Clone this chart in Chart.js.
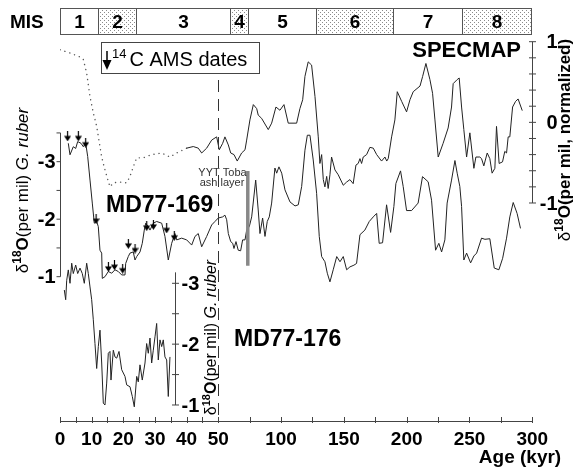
<!DOCTYPE html>
<html>
<head>
<meta charset="utf-8">
<script src="https://cdn.jsdelivr.net/npm/chart.js@4.4.0/dist/chart.umd.min.js"></script>
<style>
  html, body { margin: 0; padding: 0; background: #fff; }
  #wrap { width: 574px; height: 472px; position: relative; }
</style>
</head>
<body>
<div id="wrap"><canvas id="chart"></canvas></div>
<script>
// ages in kyr, d18O in per mil (SPECMAP normalized)
const specmapAge = [0,3.16,6.32,7.36,8.43,9.48,10.52,11.59,13.17,14.21,
  15.79,16.84,18.95,21.07,22.11,23.15,24.23,26.31,28.96,32.12,
  34.74,36.86,40.02,42.1,43.68,44.76,46.34,47.92,49.49,50.8,
  53.5,55.3,58.0,59.9,62.5,65.1,68.6,71.3,72.6,75.2,
  77.9,80.6,81.8,84.5,89.8,92.5,95.9,99.1,102.3,105.7,
  112.4,115.0,117.2,119.0,121.6,124.3,127.0,129.6,130.9,132.3,
  133.6,134.9,136.3,137.5,138.9,140.2,142.9,145.5,149.5,152.2,
  154.8,157.4,159.6,161.4,162.8,164.1,165.4,168.1,170.7,173.4,
  176.1,180.0,182.7,184.1,185.3,188.0,190.6,192.5,196.0,199.9,
  202.6,205.2,210.6,212.7,215.3,218.5,220.6,222.5,225.1,229.0,
  233.0,235.7,237.0,240.2,241.8,243.7,245.5,247.7,250.3,253.5,
  255.1,258.2,259.6,261.4,264.1,266.2,268.0,270.2,271.5,273.6,
  276.3,278.1,279.5,280.8,282.1,284.3,286.7,288.7,291.9];
const specmapValue = [0.90,0.86,0.81,0.78,0.61,0.32,0.12,-0.05,-0.43,-0.59,
  -0.80,-0.75,-0.74,-0.75,-0.67,-0.55,-0.44,-0.44,-0.40,-0.38,
  -0.43,-0.38,-0.32,-0.30,-0.32,-0.38,-0.32,-0.22,-0.18,-0.34,
  -0.26,-0.18,-0.28,-0.38,-0.40,-0.48,-0.38,-0.34,-0.22,0.03,
  0.22,0.17,0.09,0.05,-0.09,-0.01,0.19,0.15,0.22,-0.01,
  -0.01,0.17,0.28,0.57,0.75,0.71,0.32,-0.18,-0.51,-0.40,
  -0.71,-0.80,-0.67,-0.82,-0.65,-0.43,-0.59,-0.65,-0.78,-0.74,
  -0.71,-0.76,-0.53,-0.51,-0.45,-0.51,-0.43,-0.40,-0.31,-0.32,
  -0.40,-0.48,-0.43,-0.48,-0.45,-0.18,0.03,0.38,0.26,0.13,
  0.28,0.38,0.45,0.57,0.73,0.53,0.36,0.03,-0.43,-0.26,
  -0.07,0.19,0.48,0.53,0.55,0.19,-0.09,-0.43,-0.13,-0.57,
  -0.43,-0.43,-0.45,-0.54,-0.38,-0.45,-0.63,-0.57,-0.05,-0.51,
  -0.49,-0.36,-0.38,-0.18,-0.18,0.19,0.26,0.29,0.15];
const specmapDottedUntil = 40.02;

const md169Age = [2.62,3.16,4.2,4.96,5.59,6.63,7.36,8.12,8.75,9.48,
  10.2,10.83,11.59,12.1,12.63,13.17,13.36,14.21,15.26,16.33,
  17.37,18.41,19.49,20.53,20.75,21.57,22.11,23.15,23.69,24.23,
  25.27,25.99,26.63,27.07,27.89,28.43,29.47,30.54,32.12,33.16,
  34.21,35.28,36.32,36.86,38.44,40.02,41.6,42.64,43.68,44.76,
  46.34,47.92,48.96,50.0,53.5,55.3,56.7,58.0,59.9,61.5,
  62.5,64.1,65.9,67.8,69.4,71.3,72.6,74.7,76.6,79.8,
  81.8,83.2,85.3,87.2,89.0,90.6,92.5,95.1,96.5,98.3,
  100.5,103.1,107.1,111.1,113.7,116.4,119.0,120.9,123.0,125.6,
  128.3,130.4,132.3,134.9,136.8,138.9,141.5,144.3,146.9,149.5,
  152.2,154.8,158.0,160.1,162.8,166.7,170.2,173.4,176.1,178.1,
  180.8,184.0,187.2,189.8,191.4,195.1,197.2,199.9,203.9,209.1,
  212.6,217.1,219.8,223.0,225.6,227.8,230.4,232.2,235.7,238.4,
  240.2,242.3,243.7,245.5,247.7,250.9,253.5,255.7,259.6,262.3,
  266.2,269.7,273.4,276.4,279.5,282.1,284.8,287.9,290.6];
const md169Value = [-3.32,-3.12,-3.26,-3.23,-3.35,-3.32,-3.26,-3.32,-3.09,-2.68,
  -2.28,-1.93,-1.96,-1.87,-1.46,-1.41,-0.97,-1.00,-1.09,-1.06,
  -1.12,-1.09,-1.03,-1.03,-1.23,-1.35,-1.41,-1.43,-1.29,-1.35,
  -1.43,-1.58,-1.81,-1.93,-1.87,-1.81,-1.93,-1.96,-1.93,-1.70,
  -1.29,-1.58,-1.75,-1.64,-1.67,-1.64,-1.55,-1.70,-1.75,-1.52,
  -1.70,-1.90,-1.96,-2.02,-2.04,-2.07,-1.99,-1.75,-1.61,-1.58,
  -1.49,-1.61,-1.46,-1.45,-1.64,-1.64,-1.81,-1.87,-2.04,-2.68,
  -2.16,-1.75,-2.02,-1.70,-1.96,-2.04,-2.28,-2.89,-2.80,-2.91,
  -2.80,-2.51,-2.30,-2.23,-2.25,-2.57,-3.20,-3.46,-3.46,-3.03,
  -2.45,-1.70,-1.35,-1.26,-1.06,-0.91,-1.12,-1.35,-1.26,-1.35,
  -1.12,-1.17,-1.20,-1.23,-1.73,-1.81,-1.96,-2.04,-2.10,-1.58,
  -1.59,-2.25,-1.77,-2.22,-2.62,-2.84,-2.57,-2.15,-2.15,-2.28,
  -2.74,-2.65,-2.33,-1.46,-1.58,-1.43,-1.64,-2.28,-2.68,-3.02,
  -2.80,-2.57,-2.22,-1.29,-1.41,-1.24,-1.36,-1.41,-1.67,-1.65,
  -1.66,-1.15,-1.12,-1.32,-1.67,-2.04,-2.29,-2.10,-1.84];

const md176Age = [1.36,1.8,2.12,2.62,3.16,3.7,4.2,4.96,5.59,6.32,
  7.04,7.68,8.43,8.94,9.48,10.01,10.52,11.05,11.59,12.1,
  12.63,13.17,13.68,14.21,14.75,15.26,15.79,16.11,16.84,17.37,
  17.91,18.64,19.49,20.53,21.07,22.11,22.84,23.47,24.23,24.73,
  25.27,25.99,26.85,27.38,27.89,28.43,28.96,29.47,30.01,30.54,
  31.05,31.59,32.12,32.63,33.16,33.7,34.21,34.74];
const md176Value = [-2.89,-2.73,-3.05,-3.22,-3.00,-3.33,-3.16,-3.30,-3.16,-3.25,
  -3.16,-3.00,-3.33,-3.16,-2.94,-2.73,-2.40,-2.01,-1.60,-1.96,
  -2.23,-1.69,-1.03,-1.00,-1.36,-1.85,-1.88,-1.41,-1.90,-1.79,
  -1.77,-1.88,-1.58,-1.47,-1.33,-1.30,-1.14,-0.97,-1.47,-1.38,
  -1.66,-1.41,-1.69,-2.01,-1.85,-2.10,-1.69,-1.90,-2.12,-2.34,
  -1.74,-2.07,-1.96,-2.07,-1.79,-1.74,-1.14,-1.79];

// 14C AMS dates on MD77-169 (arrow centres)
const c14Age = [2.4,5.8,8.1,11.4,15.3,17.2,19.8,21.6,23.7,27.4,29.5,33.7,36.1];
const c14Value = [-3.44,-3.44,-3.33,-2.0,-1.17,-1.2,-1.14,-1.57,-1.49,-1.88,-1.9,-1.84,-1.71];

const misBounds = [0,12,24,59,74,128,189,244,299];
const misLabels = ['1','2','3','4','5','6','7','8'];
const ageLabels = [0,10,20,30,40,50,100,150,200,250,300];
const ageMinor = [5,15,25,35,45,75,125,175,225,275];
const tobaAge = 73.5;
const tobaRange = [-2.84,-1.19];
const md176AxisAge = 36.3;

const FONT = '"Liberation Sans", Helvetica, Arial, sans-serif';
const INK = '#222';
const AXIS = '#444';

// broken age axis: 0-50 kyr stretched, 50-300 squeezed
const BREAK = 50, SQUEEZE = 2.52;
const toU = a => a <= BREAK ? a : BREAK + (a - BREAK) / SQUEEZE;
const fromU = u => u <= BREAK ? u : BREAK + (u - BREAK) * SQUEEZE;
const pts = (ages, vals) => ages.map((a, i) => ({ x: toU(a), y: vals[i] }));

function arrowSprite(w, h) {
  const c = document.createElement('canvas');
  c.width = w; c.height = h;
  const g = c.getContext('2d');
  g.strokeStyle = '#000'; g.fillStyle = '#000'; g.lineWidth = 1.2;
  g.beginPath(); g.moveTo(w / 2, 0); g.lineTo(w / 2, h * 0.5); g.stroke();
  g.beginPath(); g.moveTo(0, h * 0.45); g.lineTo(w, h * 0.45); g.lineTo(w / 2, h); g.closePath(); g.fill();
  return c;
}

function stipple(ctx) {
  const c = document.createElement('canvas');
  c.width = 4; c.height = 4;
  const g = c.getContext('2d');
  g.fillStyle = '#fff'; g.fillRect(0, 0, 4, 4);
  g.fillStyle = '#8a8a8a';
  g.fillRect(0, 0, 1, 1); g.fillRect(2, 2, 1, 1);
  return ctx.createPattern(c, 'repeat');
}

function drawRotated(ctx, bx, cy, parts) {
  ctx.save();
  ctx.translate(bx, cy);
  ctx.rotate(-Math.PI / 2);
  ctx.textAlign = 'left';
  ctx.textBaseline = 'alphabetic';
  let total = 0;
  parts.forEach(p => { ctx.font = p[1]; total += ctx.measureText(p[0]).width; });
  let x = -total / 2;
  parts.forEach(p => {
    ctx.font = p[1];
    ctx.fillText(p[0], x, -(p[2] || 0));
    x += ctx.measureText(p[0]).width;
  });
  ctx.restore();
}

function drawYAxis(ctx, scale, x0, lineFrom, lineTo, ticks, labels, tl, tr, labelDx, align) {
  const y = v => scale.getPixelForValue(v);
  ctx.strokeStyle = AXIS;
  ctx.lineWidth = 1;
  ctx.beginPath();
  ctx.moveTo(x0, y(lineFrom)); ctx.lineTo(x0, y(lineTo));
  ticks.forEach(v => { ctx.moveTo(x0 + tl, y(v)); ctx.lineTo(x0 + tr, y(v)); });
  ctx.stroke();
  ctx.fillStyle = '#000';
  ctx.font = 'bold 20px ' + FONT;
  ctx.textAlign = align;
  ctx.textBaseline = 'middle';
  labels.forEach(v => ctx.fillText(String(v), x0 + labelDx, y(v) + 1));
}

const range = (a, b, s) => { const r = []; for (let v = a; v <= b + 1e-9; v += s) r.push(+v.toFixed(2)); return r; };

const decor = {
  id: 'decor',
  afterDraw(chart) {
    const { ctx, scales, chartArea } = chart;
    const xs = scales.x;
    const px = a => xs.getPixelForValue(toU(a));
    ctx.save();

    // age-break dashed line
    const xb = Math.round(px(BREAK)) + 0.5;
    ctx.strokeStyle = '#333';
    ctx.lineWidth = 1;
    ctx.setLineDash([12, 7]);
    ctx.beginPath(); ctx.moveTo(xb, 80); ctx.lineTo(xb, chartArea.bottom); ctx.stroke();
    ctx.setLineDash([]);

    // x axis crossing ticks
    ctx.strokeStyle = AXIS;
    ctx.beginPath();
    xs.ticks.forEach(t => {
      const x = Math.round(xs.getPixelForValue(t.value)) + 0.5;
      ctx.moveTo(x, chartArea.bottom - 4); ctx.lineTo(x, chartArea.bottom + 2);
    });
    ctx.stroke();

    // y axes
    drawYAxis(ctx, scales.y169, chartArea.left + 0.5, -3.5, -1, range(-3.5, -1, 0.5), [-3, -2, -1], -4, 0, -5, 'right');
    drawYAxis(ctx, scales.y176, Math.round(px(md176AxisAge)) + 0.5, -3.18, -1, range(-3, -1, 0.5), [-3, -2, -1], -3.5, 3.5, 6, 'left');
    drawYAxis(ctx, scales.ySpec, Math.round(chartArea.right) + 0.5, -1, 1, range(-1, 1, 0.2), [1, 0, -1], -3.5, 3.5, 25, 'right');

    // MIS bar
    const top = 8.5, bot = 34.5;
    const pat = stipple(ctx);
    ctx.lineWidth = 1;
    for (let i = 0; i < misLabels.length; i++) {
      const x1 = Math.round(px(misBounds[i])) + 0.5;
      const x2 = Math.round(px(misBounds[i + 1])) + 0.5;
      ctx.fillStyle = i % 2 ? pat : '#fff';
      ctx.fillRect(x1, top, x2 - x1, bot - top);
      ctx.strokeStyle = '#555';
      ctx.strokeRect(x1, top, x2 - x1, bot - top);
      ctx.fillStyle = '#000';
      ctx.font = 'bold 19px ' + FONT;
      ctx.textAlign = 'center';
      ctx.textBaseline = 'middle';
      ctx.fillText(misLabels[i], (x1 + x2) / 2, (top + bot) / 2 + 1);
    }
    ctx.textAlign = 'left';
    ctx.fillText('MIS', 10, 22.5);

    // 14C legend box
    ctx.fillStyle = '#fff';
    ctx.fillRect(101.5, 42.5, 158, 31);
    ctx.strokeStyle = '#444';
    ctx.strokeRect(101.5, 42.5, 158, 31);
    ctx.fillStyle = '#000';
    ctx.strokeStyle = '#000';
    ctx.lineWidth = 1.5;
    ctx.beginPath(); ctx.moveTo(107, 51); ctx.lineTo(107, 62); ctx.stroke();
    ctx.beginPath(); ctx.moveTo(102.5, 60); ctx.lineTo(111.5, 60); ctx.lineTo(107, 70); ctx.closePath(); ctx.fill();
    ctx.textBaseline = 'alphabetic';
    ctx.font = '13px ' + FONT;
    ctx.fillText('14', 112, 58);
    ctx.font = '20px ' + FONT;
    ctx.fillText('C AMS dates', 129.5, 65.5);

    // series names
    ctx.font = 'bold 22px ' + FONT;
    ctx.textAlign = 'right';
    ctx.fillText('SPECMAP', 521, 57);
    ctx.textAlign = 'left';
    ctx.font = 'bold 23px ' + FONT;
    ctx.fillText('MD77-169', 106, 212);
    ctx.fillText('MD77-176', 234, 346);

    // Toba label
    ctx.fillStyle = '#333';
    ctx.font = '11px ' + FONT;
    ctx.textAlign = 'center';
    ctx.fillText('YYT Toba', 222.5, 175.5);
    ctx.fillText('ash layer', 222, 185.5);

    // axis titles
    ctx.fillStyle = '#000';
    drawRotated(ctx, 28, 190.5, [['\u03b4', '17px ' + FONT], ['18', 'bold 12px ' + FONT, 7], ['O', 'bold 17px ' + FONT],
      ['(per mil) ', '17px ' + FONT], ['G. ruber', 'italic 17px ' + FONT]]);
    drawRotated(ctx, 216, 337.5, [['\u03b4', '16px ' + FONT], ['18', 'bold 11px ' + FONT, 6.5], ['O', 'bold 16px ' + FONT],
      ['(per mil) ', '16px ' + FONT], ['G. ruber', 'italic 16px ' + FONT]]);
    drawRotated(ctx, 570, 140, [['\u03b4', '17px ' + FONT], ['18', 'bold 12px ' + FONT, 7], ['O(per mil, normalized)', 'bold 17px ' + FONT]]);

    ctx.font = 'bold 19px ' + FONT;
    ctx.textAlign = 'center';
    ctx.textBaseline = 'alphabetic';
    ctx.fillText('Age (kyr)', 520, 463);
    ctx.restore();
  }
};

const lineStyle = { borderColor: INK, borderWidth: 1, pointRadius: 0, tension: 0, fill: false };
const isDotted = c => c.p1.parsed.x <= specmapDottedUntil + 0.01;

new Chart(document.getElementById('chart'), {
  type: 'line',
  data: {
    datasets: [
      { type: 'scatter', label: '14C AMS dates', data: pts(c14Age, c14Value), yAxisID: 'y169',
        pointStyle: arrowSprite(7, 10), pointRadius: 5, showLine: false },
      { label: 'Toba', data: pts([tobaAge, tobaAge], tobaRange), yAxisID: 'y169',
        borderColor: '#888', borderWidth: 3.5, pointRadius: 0 },
      Object.assign({}, lineStyle, { label: 'SPECMAP', data: pts(specmapAge, specmapValue), yAxisID: 'ySpec',
        borderCapStyle: 'round',
        segment: { borderDash: c => isDotted(c) ? [0.1, 5] : undefined,
                   borderWidth: c => isDotted(c) ? 1.4 : 1,
                   borderColor: c => isDotted(c) ? '#555' : INK } }),
      Object.assign({ label: 'MD77-169', data: pts(md169Age, md169Value), yAxisID: 'y169' }, lineStyle),
      Object.assign({ label: 'MD77-176', data: pts(md176Age, md176Value), yAxisID: 'y176' }, lineStyle)
    ]
  },
  options: {
    responsive: true,
    maintainAspectRatio: false,
    animation: false,
    layout: { padding: { left: 60, right: 41.7, top: 20, bottom: 21 } },
    plugins: { legend: { display: false }, tooltip: { enabled: false } },
    scales: {
      x: {
        type: 'linear', min: 0, max: toU(300),
        afterBuildTicks: s => {
          s.ticks = ageLabels.concat(ageMinor).sort((a, b) => a - b).map(a => ({ value: toU(a) }));
        },
        afterFit: s => { s.height = 30; },
        ticks: {
          autoSkip: false, maxRotation: 0, padding: 7, color: '#000',
          font: { family: FONT, size: 19, weight: 'bold' },
          callback: v => {
            const a = Math.round(fromU(v));
            return ageLabels.includes(a) ? String(a) : '';
          }
        },
        grid: { drawOnChartArea: false, drawTicks: false },
        border: { color: AXIS, width: 1 }
      },
      // ranges chosen so each record sits in its own band of the shared plot area
      ySpec: { type: 'linear', display: false, min: -3.703, max: 1.269 },
      y169: { type: 'linear', display: false, reverse: true, min: -5.464, max: 1.510 },
      y176: { type: 'linear', display: false, reverse: true, min: -7.327, max: -0.737 }
    }
  },
  plugins: [decor]
});
</script>
</body>
</html>
